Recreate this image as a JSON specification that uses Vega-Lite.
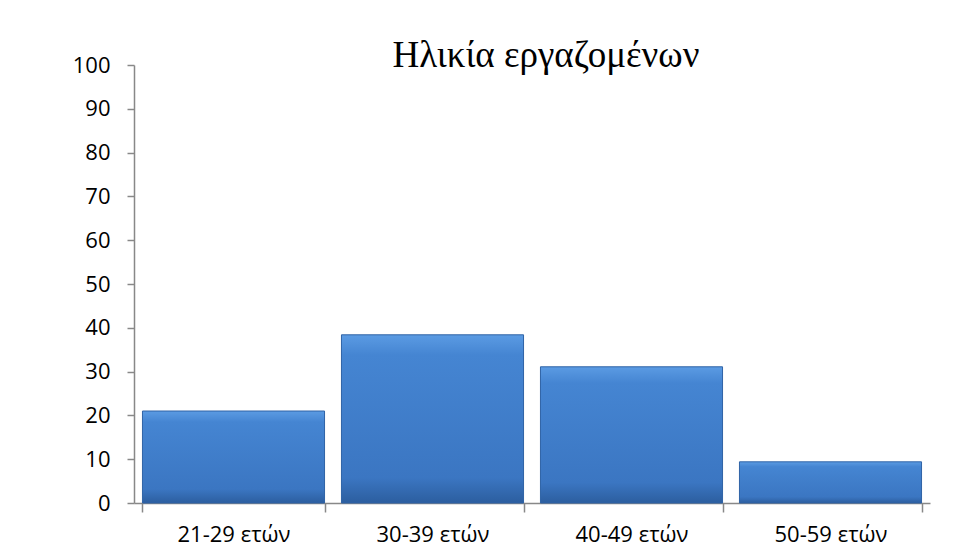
{
  "$schema": "https://vega.github.io/schema/vega-lite/v6.json",
  "autosize": "none",
  "width": 796,
  "height": 438,
  "padding": {"left": 134, "top": 65, "right": 46, "bottom": 44},
  "background": "white",
  "title": {
    "text": "Ηλικία εργαζομένων",
    "font": "Liberation Serif",
    "fontSize": 37,
    "fontWeight": "normal",
    "color": "#000000",
    "anchor": "middle",
    "baseline": "alphabetic",
    "offset": -3,
    "dx": 14,
    "dy": 47
  },
  "data": {
    "values": [
      {"age": "21-29 ετών", "value": 21.0},
      {"age": "30-39 ετών", "value": 38.4},
      {"age": "40-49 ετών", "value": 31.1},
      {"age": "50-59 ετών", "value": 9.4}
    ]
  },
  "mark": {
    "type": "bar",
    "fill": {
      "gradient": "linear",
      "x1": 0, "y1": 0, "x2": 0, "y2": 1,
      "stops": [
        {"offset": 0, "color": "#5b9be3"},
        {"offset": 0.12, "color": "#4585d2"},
        {"offset": 0.85, "color": "#3b76c2"},
        {"offset": 1, "color": "#2c5e9f"}
      ]
    },
    "stroke": "#2f63a6",
    "strokeWidth": 1
  },
  "encoding": {
    "x": {
      "field": "age",
      "type": "nominal",
      "sort": null,
      "title": null,
      "scale": {"paddingInner": 0.085, "paddingOuter": 0.0425},
      "axis": {
        "labelAngle": 0,
        "labelFont": "Open Sans",
        "labelFontSize": 22,
        "labelColor": "#000000",
        "labelPadding": 12,
        "domainColor": "#888888",
        "domainWidth": 1.5,
        "tickColor": "#888888",
        "tickBand": "extent",
        "tickSize": 9,
        "tickWidth": 1.5,
        "grid": false
      }
    },
    "y": {
      "field": "value",
      "type": "quantitative",
      "title": null,
      "scale": {"domain": [0, 100], "nice": false},
      "axis": {
        "values": [0, 10, 20, 30, 40, 50, 60, 70, 80, 90, 100],
        "labelFont": "Open Sans",
        "labelFontSize": 22,
        "labelColor": "#000000",
        "labelPadding": 17,
        "domainColor": "#888888",
        "domainWidth": 1.5,
        "tickColor": "#888888",
        "tickSize": 7,
        "tickWidth": 1.5,
        "grid": false
      }
    }
  },
  "config": {
    "view": {"stroke": null}
  }
}
